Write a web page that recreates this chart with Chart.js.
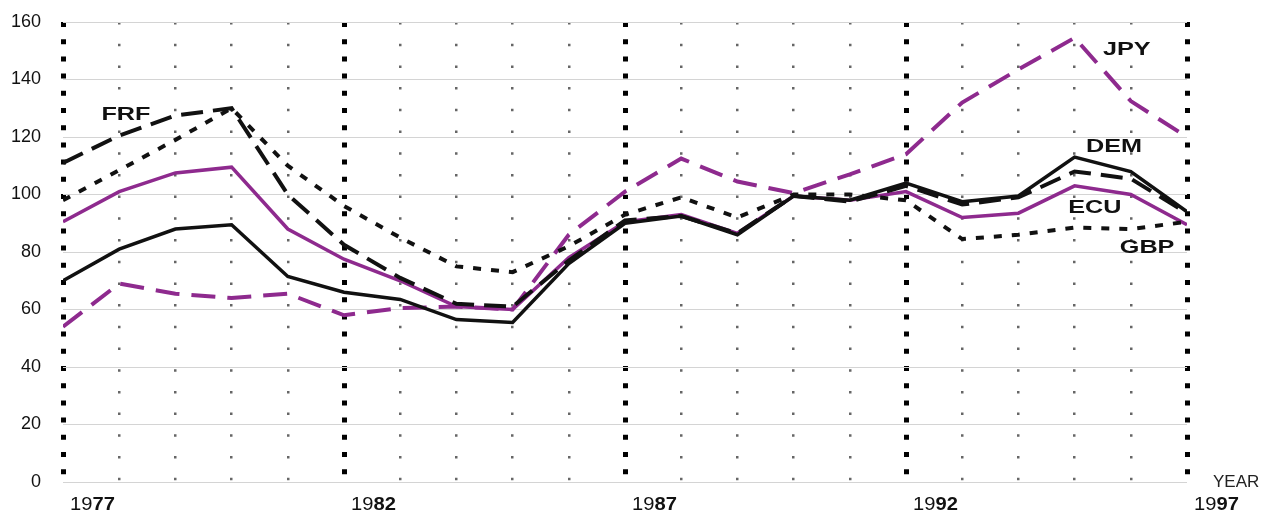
<!DOCTYPE html>
<html>
<head>
<meta charset="utf-8">
<script src="https://cdn.jsdelivr.net/npm/chart.js@4/dist/chart.umd.min.js"></script>
<style>
  html, body { margin: 0; padding: 0; background: #fff; }
  #box { width: 1263px; height: 515px; }
</style>
</head>
<body>
<div id="box"><canvas id="grafico"></canvas></div>
<script>
// datos (indice, 1977 - 1997)
const years = [1977, 1978, 1979, 1980, 1981, 1982, 1983, 1984, 1985, 1986, 1987,
               1988, 1989, 1990, 1991, 1992, 1993, 1994, 1995, 1996, 1997];
const dem = [70, 81, 88, 89.5, 71.5, 66, 63.5, 56.5, 55.5, 76, 90, 92.5, 86, 99.5, 98, 104, 97.5, 99.5, 113, 108, 94];
const ecu = [90.5, 101, 107.5, 109.5, 88, 77.5, 70, 61, 60, 78, 90.5, 93, 86.5, 99.5, 98, 101, 92, 93.5, 103, 100, 89.5];
const frf = [111, 120.5, 127.5, 130, 100, 82.5, 71, 62, 61, 77, 91, 92.5, 86.5, 99.5, 97.5, 103, 96.5, 99, 108, 105.5, 93.5];
const gbp = [98, 108.5, 119, 130, 110, 96, 85, 75, 73, 82, 93, 99, 92, 100, 100, 98, 84.5, 86, 88.5, 88, 90.5];
const jpy = [54, 69, 65.5, 64, 65.5, 58, 60.5, 61, 60, 86, 101, 112.5, 104.5, 100.5, 107, 114, 132, 143.5, 154.5, 132.5, 120];

const yTicks = [0, 20, 40, 60, 80, 100, 120, 140, 160];
const yearLabels = [1977, 1982, 1987, 1992, 1997];

// etiquetas de las series (posicion en unidades de datos)
const seriesNames = ['FRF', 'JPY', 'DEM', 'ECU', 'GBP'];
const nameYears = [1978.12, 1995.93, 1995.7, 1995.36, 1996.29];
const nameValues = [127.7, 150.3, 116.5, 95.3, 81.4];

const MAGENTA = '#8e2a8e';
const FONT = '"Liberation Sans", Arial, sans-serif';

function serie(datos) {
  return datos.map((v, i) => ({ x: years[i], y: v }));
}

function esMayor(ctx) {
  return ctx.tick && yearLabels.includes(ctx.tick.value);
}

const etiquetas = {
  id: 'etiquetas',
  afterDraw(chart) {
    const ctx = chart.ctx;
    const sx = chart.scales.x, sy = chart.scales.y;
    const area = chart.chartArea;
    ctx.save();
    ctx.fillStyle = '#111';
    ctx.textBaseline = 'middle';

    // nombres de las series
    ctx.font = 'bold 18px ' + FONT;
    ctx.textAlign = 'center';
    seriesNames.forEach((n, i) => {
      const px = sx.getPixelForValue(nameYears[i]);
      const py = sy.getPixelForValue(nameValues[i]);
      ctx.save();
      ctx.translate(px, py);
      ctx.scale(1.4, 1);
      ctx.fillText(n, 0, 0);
      ctx.restore();
    });

    // años: "19" normal + "77" negrita
    ctx.textAlign = 'left';
    yearLabels.forEach(y => {
      const s = String(y);
      const px = sx.getPixelForValue(y) + 7;
      const py = area.bottom + 23;
      ctx.save();
      ctx.translate(px, py);
      ctx.scale(1.12, 1);
      ctx.font = '18px ' + FONT;
      ctx.fillText(s.slice(0, 2), 0, 0);
      const w = ctx.measureText(s.slice(0, 2)).width;
      ctx.font = 'bold 18px ' + FONT;
      ctx.fillText(s.slice(2), w, 0);
      ctx.restore();
    });

    ctx.font = '17px ' + FONT;
    ctx.fillStyle = '#222';
    ctx.fillText('YEAR', area.right + 26, area.bottom);
    ctx.restore();
  }
};

new Chart(document.getElementById('grafico'), {
  type: 'line',
  data: {
    datasets: [
      { label: 'GBP', data: serie(gbp), borderColor: '#111', borderWidth: 4, borderDash: [8, 10] },
      { label: 'FRF', data: serie(frf), borderColor: '#111', borderWidth: 4, borderDash: [22, 10] },
      { label: 'DEM', data: serie(dem), borderColor: '#111', borderWidth: 3.5 },
      { label: 'ECU', data: serie(ecu), borderColor: MAGENTA, borderWidth: 3.5 },
      { label: 'JPY', data: serie(jpy), borderColor: MAGENTA, borderWidth: 4, borderDash: [24, 12] }
    ]
  },
  options: {
    responsive: true,
    maintainAspectRatio: false,
    animation: false,
    layout: { padding: { top: 22, right: 76, bottom: 0, left: 0 } },
    elements: {
      point: { radius: 0 },
      line: { tension: 0, borderJoinStyle: 'miter' }
    },
    plugins: { legend: { display: false }, tooltip: { enabled: false } },
    scales: {
      x: {
        type: 'linear',
        min: 1977,
        max: 1997,
        ticks: { stepSize: 1, display: false },
        grid: {
          drawTicks: false,
          color: ctx => esMayor(ctx) ? '#000' : '#666',
          lineWidth: ctx => esMayor(ctx) ? 5 : 2.5
        },
        border: {
          display: false,
          dash: ctx => esMayor(ctx) ? [5, 12.2] : [2.5, 19.2]
        },
        afterFit: scale => { scale.height = 33; }
      },
      y: {
        min: 0,
        max: 160,
        afterBuildTicks: scale => { scale.ticks = yTicks.map(v => ({ value: v })); },
        ticks: {
          color: '#111',
          padding: 0,
          font: { family: FONT, size: 18 }
        },
        grid: {
          drawTicks: true,
          tickLength: 22,
          tickColor: 'rgba(0,0,0,0)',
          color: '#d4d4d4',
          lineWidth: 1
        },
        border: { display: false },
        afterFit: scale => { scale.width = 63; }
      }
    }
  },
  plugins: [etiquetas]
});
</script>
</body>
</html>
